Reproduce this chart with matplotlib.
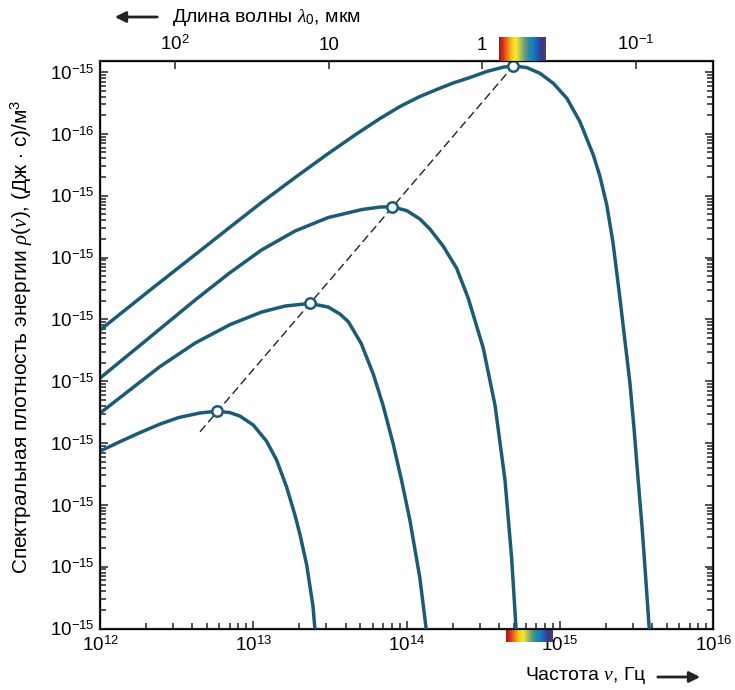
import numpy as np
import matplotlib
matplotlib.use('Agg')
import matplotlib.pyplot as plt
from matplotlib.colors import LinearSegmentedColormap
from matplotlib.ticker import FixedLocator, FixedFormatter, LogLocator, NullLocator, NullFormatter
from matplotlib.transforms import blended_transform_factory

plt.rcParams['font.family'] = ['Liberation Sans', 'DejaVu Sans']
plt.rcParams['mathtext.fontset'] = 'custom'
plt.rcParams['mathtext.rm'] = 'Liberation Sans'
plt.rcParams['mathtext.it'] = 'Liberation Serif:italic'
plt.rcParams['mathtext.bf'] = 'Liberation Sans:bold'

# частота, Гц и спектральная плотность энергии (4 кривые)
nu_1 = [1.00e12, 1.35e12, 1.82e12, 2.46e12, 3.24e12, 4.49e12, 5.82e12, 7.05e12, 8.19e12, 1.00e13,
        1.22e13, 1.42e13, 1.65e13, 1.87e13, 2.02e13, 2.23e13, 2.34e13, 2.45e13, 2.52e13, 2.55e13]
rho_1 = [7.38e-22, 1.05e-21, 1.47e-21, 2.02e-21, 2.57e-21, 3.06e-21, 3.27e-21, 3.10e-21, 2.72e-21,
         1.95e-21, 1.07e-21, 5.28e-22, 1.93e-22, 6.81e-23, 3.23e-23, 1.06e-23, 4.83e-24, 2.30e-24,
         1.0e-24, 5.4e-25]

nu_2 = [1.00e12, 1.53e12, 2.46e12, 4.17e12, 7.05e12, 1.13e13, 1.61e13, 2.34e13, 3.08e13, 3.67e13,
        4.16e13, 5.04e13, 6.06e13, 7.01e13, 8.18e13, 9.32e13, 1.05e14, 1.22e14, 1.34e14, 1.37e14]
rho_2 = [3.04e-21, 6.90e-21, 1.72e-20, 4.13e-20, 8.22e-20, 1.31e-19, 1.64e-19, 1.81e-19, 1.58e-19,
         1.22e-19, 9.19e-20, 4.13e-20, 1.30e-20, 4.10e-21, 9.59e-22, 2.33e-22, 5.65e-23, 6.52e-24,
         1.0e-24, 5.4e-25]

nu_3 = [1.00e12, 2.12e12, 4.17e12, 7.05e12, 1.13e13, 1.87e13, 3.08e13, 5.09e13, 6.70e13, 7.99e13,
        1.00e14, 1.22e14, 1.42e14, 1.73e14, 2.12e14, 2.52e14, 3.16e14, 3.77e14, 4.38e14, 4.84e14,
        5.17e14, 5.24e14]
rho_3 = [1.12e-20, 5.16e-20, 2.05e-19, 5.70e-19, 1.32e-18, 2.68e-18, 4.43e-18, 5.96e-18, 6.55e-18,
         6.62e-18, 5.74e-18, 4.19e-18, 2.88e-18, 1.53e-18, 6.67e-19, 2.21e-19, 3.43e-20, 4.10e-21,
         2.51e-22, 1.37e-23, 1.0e-24, 5.4e-25]

nu_4 = [1.00e12, 2.12e12, 4.17e12, 7.05e12, 1.13e13, 1.87e13, 3.08e13, 4.60e13, 6.70e13, 9.05e13,
        1.22e14, 1.57e14, 2.01e14, 2.59e14, 3.33e14, 4.27e14, 4.96e14, 6.07e14, 7.41e14, 9.05e14,
        1.11e15, 1.35e15, 1.65e15, 1.82e15, 2.02e15, 2.22e15, 2.46e15, 2.65e15, 2.86e15, 3.04e15,
        3.24e15, 3.43e15, 3.58e15, 3.82e15, 3.86e15]
rho_4 = [6.70e-20, 2.97e-19, 1.11e-18, 3.10e-18, 7.74e-18, 1.96e-17, 4.80e-17, 9.57e-17, 1.77e-16,
         2.77e-16, 4.02e-16, 5.21e-16, 6.64e-16, 8.15e-16, 1.02e-15, 1.20e-15, 1.25e-15, 1.18e-15,
         9.53e-16, 6.56e-16, 3.75e-16, 1.57e-16, 4.54e-17, 2.08e-17, 7.05e-18, 1.71e-18, 2.21e-19,
         4.61e-20, 9.30e-21, 1.74e-21, 2.42e-22, 4.36e-23, 1.02e-23, 1.0e-24, 6.5e-25]

# максимумы кривых и линия смещения Вина
peak_nu = [5.82e12, 2.34e13, 7.99e13, 4.96e14]
peak_rho = [3.27e-21, 1.81e-19, 6.62e-18, 1.25e-15]
wien_nu = [4.49e12, 4.96e14]
wien_rho = [1.52e-21, 1.25e-15]

# подписи осей
ytick_values = [1e-15, 1e-16, 1e-17, 1e-18, 1e-19, 1e-20, 1e-21, 1e-22, 1e-23, 1e-24]
ytick_labels = ['$10^{-15}$', '$10^{-16}$', '$10^{-15}$', '$10^{-15}$', '$10^{-15}$',
                '$10^{-15}$', '$10^{-15}$', '$10^{-15}$', '$10^{-15}$', '$10^{-15}$']
xtick_values = [1e12, 1e13, 1e14, 1e15, 1e16]
xtick_labels = ['$10^{12}$', '$10^{13}$', '$10^{14}$', '$10^{15}$', '$10^{16}$']
top_tick_freqs = [3.08e12, 3.13e13, 3.11e14, 3.13e15]
top_tick_labels = ['$10^{2}$', '10', '1', '$10^{-1}$']

# видимый диапазон (цветные полоски)
spectrum_top = [4.0e14, 8.0e14]
spectrum_bottom = [4.43e14, 8.85e14]
spectrum_colors = ['#9b1a1a', '#d7341c', '#ef7d1e', '#f6c81a', '#f3ec2a', '#b5c05a',
                   '#6b9a78', '#2a8c9c', '#0d80c8', '#2559a6', '#373888', '#553a7a']

CURVE_COLOR = '#1c5b78'

fig = plt.figure(figsize=(7.35, 6.9), dpi=100)
ax = fig.add_axes([0.13605, 0.08913, 0.83442, 0.82290])

for nu, rho in [(nu_1, rho_1), (nu_2, rho_2), (nu_3, rho_3), (nu_4, rho_4)]:
    ax.plot(nu, rho, color=CURVE_COLOR, lw=2.5, solid_joinstyle='round', zorder=3)

wien, = ax.plot(wien_nu, wien_rho, color='#222222', lw=1.0, zorder=2)
wien.set_dashes([6, 3])
ax.plot(peak_nu, peak_rho, 'o', ms=7.5, mfc='white', mec=CURVE_COLOR, mew=1.8, zorder=4)

ax.set_xscale('log')
ax.set_yscale('log')
ax.set_xlim(1e12, 1e16)
ax.set_ylim(1e-24, 10 ** -14.817)

ax.yaxis.set_major_locator(FixedLocator(ytick_values))
ax.yaxis.set_major_formatter(FixedFormatter(ytick_labels))
ax.yaxis.set_minor_locator(LogLocator(base=10, subs=np.arange(2, 10), numticks=30))
ax.yaxis.set_minor_formatter(NullFormatter())
ax.xaxis.set_major_locator(FixedLocator(xtick_values))
ax.xaxis.set_major_formatter(FixedFormatter(xtick_labels))
ax.xaxis.set_minor_locator(LogLocator(base=10, subs=np.arange(2, 10), numticks=30))
ax.xaxis.set_minor_formatter(NullFormatter())

ax.tick_params(which='both', direction='in', width=1.1, color='#222222',
               left=True, right=True, bottom=True, top=False, labelsize=13.5)
ax.tick_params(which='major', length=6)
ax.tick_params(which='minor', length=4)
ax.tick_params(axis='y', pad=4)
ax.tick_params(axis='x', pad=5)
for s in ax.spines.values():
    s.set_linewidth(1.6)
    s.set_color('#222222')

# верхняя ось - длина волны
ax2 = ax.twiny()
ax2.set_xscale('log')
ax2.set_xlim(ax.get_xlim())
ax2.xaxis.set_major_locator(FixedLocator(top_tick_freqs))
ax2.xaxis.set_major_formatter(FixedFormatter(top_tick_labels))
ax2.xaxis.set_minor_locator(NullLocator())
ax2.tick_params(axis='x', direction='in', length=6, width=1.1, color='#222222',
                labelsize=13.5, pad=5)

# цветные полоски видимого спектра
cmap = LinearSegmentedColormap.from_list('spectrum', spectrum_colors)
grad = np.linspace(0, 1, 256)[None, :]
trans = blended_transform_factory(ax.transData, ax.transAxes)
for band, y0, h in [(spectrum_top, 1.0, 0.042), (spectrum_bottom, -0.023, 0.023)]:
    iax = ax.inset_axes([band[0], y0, band[1] - band[0], h], transform=trans)
    iax.imshow(grad, aspect='auto', cmap=cmap)
    iax.set_axis_off()

# подписи осей
fig.text(22 / 735, 1 - 337 / 690,
         'Спектральная плотность энергии $\\rho(\\nu)$, (Дж $\\cdot$ с)/м$^3$',
         rotation=90, ha='center', va='center', fontsize=15)
fig.text(172 / 735, 1 - 17 / 690, 'Длина волны $\\lambda_0$, мкм',
         ha='left', va='center', fontsize=14)
fig.text(525 / 735, 1 - 676 / 690, 'Частота $\\nu$, Гц',
         ha='left', va='center', fontsize=14)
fig.add_artist(plt.Annotation('', xy=(112 / 735, 1 - 17 / 690), xytext=(160 / 735, 1 - 17 / 690),
                              xycoords='figure fraction', textcoords='figure fraction',
                              arrowprops=dict(arrowstyle='-|>', lw=2, color='#222222',
                                              mutation_scale=16)))
fig.add_artist(plt.Annotation('', xy=(703 / 735, 1 - 677 / 690), xytext=(655 / 735, 1 - 677 / 690),
                              xycoords='figure fraction', textcoords='figure fraction',
                              arrowprops=dict(arrowstyle='-|>', lw=2, color='#222222',
                                              mutation_scale=16)))

fig.savefig('out.png', dpi=100)
